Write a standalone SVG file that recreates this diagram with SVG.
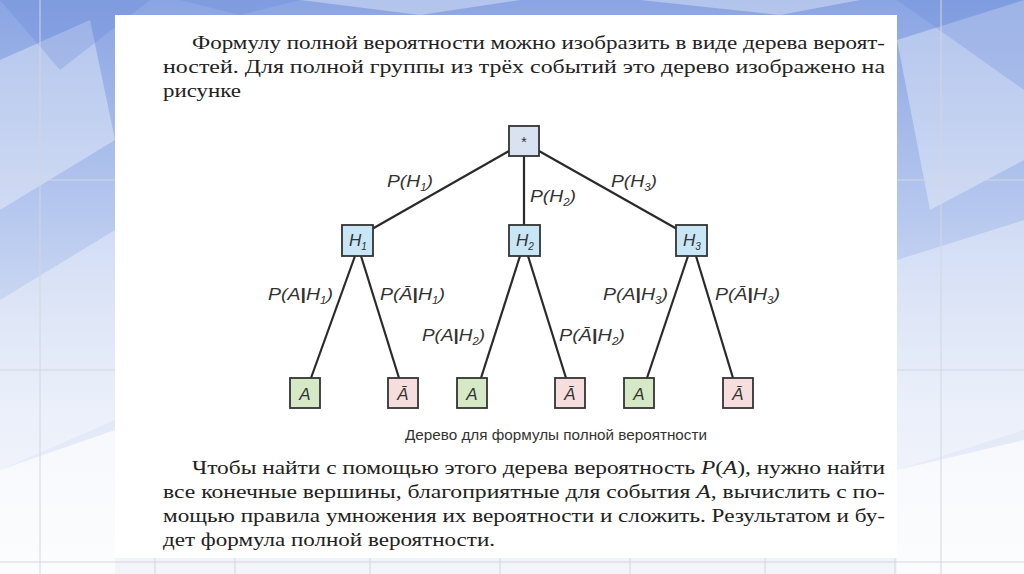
<svg xmlns="http://www.w3.org/2000/svg" width="1024" height="574" viewBox="0 0 1024 574">
<defs>
<linearGradient id="bg" x1="0" y1="0" x2="0" y2="1">
<stop offset="0" stop-color="#8aa5e3"/>
<stop offset="0.35" stop-color="#b4c6ee"/>
<stop offset="0.7" stop-color="#dfe7f7"/>
<stop offset="1" stop-color="#f3f5fa"/>
</linearGradient>
<style>
.body{font-family:'Liberation Serif','DejaVu Serif','Times New Roman',serif;font-size:19px;fill:#222}
.lbl{font-family:'Liberation Sans',Arial,sans-serif;font-style:italic;font-size:17px;fill:#333}
.sub{font-size:10px}
.bar{font-weight:bold;font-style:normal}
.cap{font-family:'Liberation Sans',Arial,sans-serif;font-size:14px;fill:#333}
.edge{stroke:#2a2a2a;stroke-width:2.2;fill:none}
.box{stroke:#333;stroke-width:1.8}
.root{fill:#d9e2f0}
.hyp{fill:#c9e6f6}
.yes{fill:#d5e9c6}
.no{fill:#f7dede}
.nt{font-family:'Liberation Sans',Arial,sans-serif;font-style:italic;font-size:17px;fill:#333;text-anchor:middle}
.lt{font-family:'Liberation Sans',Arial,sans-serif;font-style:italic;font-size:17px;fill:#333;text-anchor:middle}
.grid{stroke:#d2d6de;stroke-width:1}
</style>
</defs>
<rect x="0" y="0" width="1024" height="574" fill="url(#bg)"/>
<g opacity="0.35" fill="#ffffff">
<polygon points="0,60 90,20 115,140 0,210"/>
<polygon points="0,300 115,230 115,420 0,470"/>
<polygon points="897,40 1024,0 1024,160 930,210"/>
<polygon points="897,260 1024,220 1024,430 897,470"/>
<polygon points="300,0 520,0 420,15"/>
<polygon points="640,0 860,0 780,15"/>
</g>
<g opacity="0.25" fill="#5f82d6">
<polygon points="0,0 150,0 60,70"/>
<polygon points="897,0 1024,0 1024,90"/>
<polygon points="180,0 300,0 240,15"/>
</g>
<g opacity="0.7" fill="#ffffff">
<polygon points="0,470 115,430 115,574 0,574"/>
<polygon points="897,470 1024,440 1024,574 897,574"/>
</g>
<g class="grid">
<line x1="0" y1="180" x2="115" y2="180"/>
<line x1="897" y1="180" x2="1024" y2="180"/>
<line x1="0" y1="370" x2="115" y2="370"/>
<line x1="897" y1="370" x2="1024" y2="370"/>
<line x1="0" y1="562" x2="1024" y2="562"/>
<line x1="40" y1="0" x2="40" y2="574"/>
<line x1="941" y1="0" x2="941" y2="574"/>
<line x1="155" y1="558" x2="155" y2="574"/>
<line x1="235" y1="558" x2="235" y2="574"/>
<line x1="370" y1="558" x2="370" y2="574"/>
<line x1="500" y1="558" x2="500" y2="574"/>
<line x1="630" y1="558" x2="630" y2="574"/>
<line x1="765" y1="558" x2="765" y2="574"/>
<line x1="895" y1="558" x2="895" y2="574"/>
</g>
<rect x="115" y="15" width="782" height="543" fill="#ffffff"/>

<g id="text-top" class="body">
<text font-family="Liberation Serif, DejaVu Serif, serif" x="192" y="49" textLength="693" lengthAdjust="spacingAndGlyphs">Формулу полной вероятности можно изобразить в виде дерева вероят-</text>
<text font-family="Liberation Serif, DejaVu Serif, serif" x="163" y="73" textLength="722" lengthAdjust="spacingAndGlyphs">ностей. Для полной группы из трёх событий это дерево изображено на</text>
<text font-family="Liberation Serif, DejaVu Serif, serif" x="163" y="97" textLength="78" lengthAdjust="spacingAndGlyphs">рисунке</text>
</g>

<g id="connectors">
<line class="edge" x1="509" y1="151" x2="372" y2="229"/>
<line class="edge" x1="524" y1="156" x2="524" y2="225"/>
<line class="edge" x1="539" y1="151" x2="677" y2="229"/>
<line class="edge" x1="355" y1="256" x2="311" y2="378"/>
<line class="edge" x1="361" y1="256" x2="399" y2="378"/>
<line class="edge" x1="520" y1="256" x2="481" y2="378"/>
<line class="edge" x1="528" y1="256" x2="566" y2="378"/>
<line class="edge" x1="688" y1="256" x2="647" y2="378"/>
<line class="edge" x1="696" y1="256" x2="733" y2="378"/>
<g class="lbl">
<text x="387" y="187" textLength="46" lengthAdjust="spacingAndGlyphs">P(H<tspan class="sub" dy="4">1</tspan><tspan dy="-4">)</tspan></text>
<text x="530" y="202" textLength="46" lengthAdjust="spacingAndGlyphs">P(H<tspan class="sub" dy="4">2</tspan><tspan dy="-4">)</tspan></text>
<text x="611" y="187" textLength="46" lengthAdjust="spacingAndGlyphs">P(H<tspan class="sub" dy="4">3</tspan><tspan dy="-4">)</tspan></text>
<text x="268" y="300" textLength="65" lengthAdjust="spacingAndGlyphs">P(A<tspan class="bar">|</tspan>H<tspan class="sub" dy="4">1</tspan><tspan dy="-4">)</tspan></text>
<text x="380" y="300" textLength="65" lengthAdjust="spacingAndGlyphs">P(Ā<tspan class="bar">|</tspan>H<tspan class="sub" dy="4">1</tspan><tspan dy="-4">)</tspan></text>
<text x="422" y="341" textLength="63" lengthAdjust="spacingAndGlyphs">P(A<tspan class="bar">|</tspan>H<tspan class="sub" dy="4">2</tspan><tspan dy="-4">)</tspan></text>
<text x="559" y="341" textLength="66" lengthAdjust="spacingAndGlyphs">P(Ā<tspan class="bar">|</tspan>H<tspan class="sub" dy="4">2</tspan><tspan dy="-4">)</tspan></text>
<text x="603" y="300" textLength="65" lengthAdjust="spacingAndGlyphs">P(A<tspan class="bar">|</tspan>H<tspan class="sub" dy="4">3</tspan><tspan dy="-4">)</tspan></text>
<text x="715" y="300" textLength="65" lengthAdjust="spacingAndGlyphs">P(Ā<tspan class="bar">|</tspan>H<tspan class="sub" dy="4">3</tspan><tspan dy="-4">)</tspan></text>
</g>
</g>

<g id="node-root">
<rect class="box root" x="509" y="126" width="30" height="30"/>
<text class="nt" x="524" y="147" style="font-style:normal;font-size:14px">*</text>
</g>
<g id="node-H1">
<rect class="box hyp" x="342" y="225" width="31" height="31"/>
<text class="nt" x="358" y="246">H<tspan class="sub" dy="4">1</tspan></text>
</g>
<g id="node-H2">
<rect class="box hyp" x="509" y="225" width="31" height="31"/>
<text class="nt" x="525" y="246">H<tspan class="sub" dy="4">2</tspan></text>
</g>
<g id="node-H3">
<rect class="box hyp" x="676" y="225" width="31" height="31"/>
<text class="nt" x="692" y="246">H<tspan class="sub" dy="4">3</tspan></text>
</g>
<g id="leaf-A1">
<rect class="box yes" x="290" y="378" width="30" height="30"/>
<text class="lt" x="305" y="400">A</text>
</g>
<g id="leaf-notA1">
<rect class="box no" x="388" y="378" width="30" height="30"/>
<text class="lt" x="403" y="400">Ā</text>
</g>
<g id="leaf-A2">
<rect class="box yes" x="457" y="378" width="30" height="30"/>
<text class="lt" x="472" y="400">A</text>
</g>
<g id="leaf-notA2">
<rect class="box no" x="555" y="378" width="30" height="30"/>
<text class="lt" x="570" y="400">Ā</text>
</g>
<g id="leaf-A3">
<rect class="box yes" x="624" y="378" width="30" height="30"/>
<text class="lt" x="639" y="400">A</text>
</g>
<g id="leaf-notA3">
<rect class="box no" x="723" y="378" width="30" height="30"/>
<text class="lt" x="738" y="400">Ā</text>
</g>

<g id="caption">
<text class="cap" x="405" y="440" textLength="302" lengthAdjust="spacingAndGlyphs">Дерево для формулы полной вероятности</text>
</g>

<g id="text-bottom" class="body">
<text font-family="Liberation Serif, DejaVu Serif, serif" x="192" y="474" textLength="693" lengthAdjust="spacingAndGlyphs">Чтобы найти с помощью этого дерева вероятность <tspan font-style="italic">P</tspan>(<tspan font-style="italic">A</tspan>), нужно найти</text>
<text font-family="Liberation Serif, DejaVu Serif, serif" x="163" y="498" textLength="722" lengthAdjust="spacingAndGlyphs">все конечные вершины, благоприятные для события <tspan font-style="italic">A</tspan>, вычислить с по-</text>
<text font-family="Liberation Serif, DejaVu Serif, serif" x="163" y="522" textLength="722" lengthAdjust="spacingAndGlyphs">мощью правила умножения их вероятности и сложить. Результатом и бу-</text>
<text font-family="Liberation Serif, DejaVu Serif, serif" x="163" y="546" textLength="332" lengthAdjust="spacingAndGlyphs">дет формула полной вероятности.</text>
</g>
</svg>
